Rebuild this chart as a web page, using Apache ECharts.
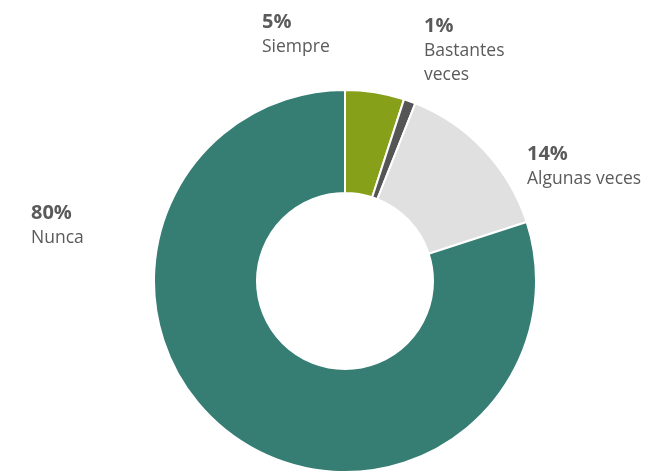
<!DOCTYPE html>
<html>
<head>
<meta charset="utf-8">
<script src="https://cdn.jsdelivr.net/npm/echarts@6/dist/echarts.min.js"></script>
<style>
  html, body { margin: 0; padding: 0; background: #ffffff; }
  #chart { width: 649px; height: 473px; }
</style>
</head>
<body>
<div id="chart"></div>
<script>
// Frequency answers, share of respondents (%)
const categories = ['Siempre', 'Bastantes\nveces', 'Algunas veces', 'Nunca'];
const shares = [5, 1, 14, 80];
const sliceColors = ['#86a01a', '#555555', '#e0e0e0', '#367d74'];

// Top-left anchor for each label block
const labelAnchors = [
  [262, 9],
  [424, 13],
  [527, 141],
  [31, 200]
];

const chart = echarts.init(document.getElementById('chart'), null, { renderer: 'canvas' });

chart.setOption({
  animation: false,
  series: [{
    type: 'pie',
    center: [345, 281],
    radius: [88, 191],
    startAngle: 90,
    clockwise: true,
    avoidLabelOverlap: false,
    itemStyle: { borderColor: '#ffffff', borderWidth: 2 },
    labelLine: { show: false },
    label: {
      show: true,
      position: 'outside',
      formatter: function (p) {
        return '{p|' + p.value + '%}\n{n|' + p.name.split('\n').join('}\n{n|') + '}';
      },
      rich: {
        p: { fontFamily: 'Open Sans', fontSize: 20, fontWeight: 'bold', color: '#5a5a5a', lineHeight: 26 },
        n: { fontFamily: 'Open Sans', fontSize: 17.5, color: '#5a5a5a', lineHeight: 24 }
      }
    },
    labelLayout: function (params) {
      const a = labelAnchors[params.dataIndex];
      return { x: a[0], y: a[1], align: 'left', verticalAlign: 'top' };
    },
    data: categories.map(function (c, i) {
      return { name: c, value: shares[i], itemStyle: { color: sliceColors[i] } };
    })
  }]
});
</script>
</body>
</html>
